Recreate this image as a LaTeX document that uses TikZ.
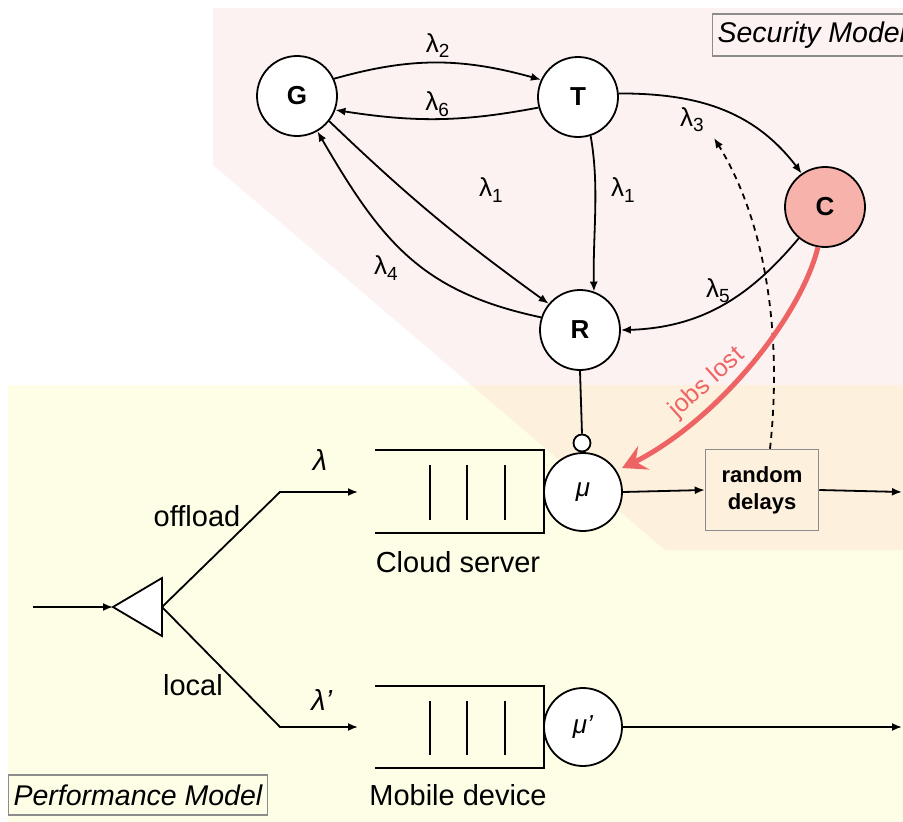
\documentclass[tikz,border=0pt]{standalone}
\usepackage{fontspec}
\setmainfont{Liberation Sans}
\usetikzlibrary{arrows.meta,bending,shapes.geometric}
\definecolor{secbg}{RGB}{253,242,242}
\definecolor{perfbg}{RGB}{254,253,230}
\definecolor{overbg}{RGB}{253,240,220}
\definecolor{cfill}{RGB}{247,178,172}
\definecolor{boxgray}{RGB}{140,140,140}
\definecolor{jobred}{RGB}{238,100,100}
\newcommand{\lam}[1]{λ\raisebox{-0.2em}{\fontsize{19}{19}\selectfont #1}}
\tikzset{
  statenode/.style={circle,draw,line width=1.8pt,fill=white,minimum size=80pt,inner sep=0pt,font=\fontsize{26}{28}\selectfont\bfseries},
  srvnode/.style={circle,draw,line width=1.8pt,fill=white,minimum size=78pt,inner sep=0pt,font=\fontsize{26}{28}\selectfont\itshape},
  arr/.style={line width=1.8pt,-{Latex[length=10pt,width=8pt]}},
  plain/.style={line width=1.8pt},
  lab/.style={font=\fontsize{26}{28}\selectfont,inner sep=1pt},
  txt/.style={font=\fontsize{29}{32}\selectfont,inner sep=1pt},
  tagbox/.style={draw=boxgray,line width=1.2pt,font=\fontsize{28.5}{32}\selectfont\itshape,inner sep=5pt,anchor=west},
}
\begin{document}
\begin{tikzpicture}[x=1pt,y=-1pt]
\useasboundingbox (0,0) rectangle (903,822);
% backgrounds
\fill[secbg] (213,8) -- (903,8) -- (903,550) -- (665,550) -- (213,165) -- cycle;
\fill[perfbg] (8,385) rectangle (903,822);
\begin{scope}
  \clip (213,8) -- (903,8) -- (903,550) -- (665,550) -- (213,165) -- cycle;
  \fill[overbg] (8,385) rectangle (903,822);
\end{scope}
% tags
\node[tagbox,fill=secbg,minimum height=42pt] (sec) at (712,35) {Security Model};
\node[tagbox,fill=perfbg,minimum height=40pt] (perf) at (8,795) {Performance Model};
% states
\node[statenode] (G) at (297,96) {G};
\node[statenode] (T) at (578,97) {T};
\node[statenode,fill=cfill] (C) at (825,207) {C};
\node[statenode] (R) at (580,330) {R};
% security edges
\draw[arr] (G.25) to[bend left=16] node[lab,above=3pt] {\lam{2}} (T.155);
\draw[arr] (T.195) to[bend left=10] node[lab,above=1pt] {\lam{6}} (G.-20);
\draw[arr] (T.5) to[out=0,in=125] (C.125);
\node[lab] (l3) at (692,120) {\lam{3}};
\draw[arr] (G.-38) to[bend right=4] (R.140);
\node[lab] (l1a) at (491,190) {\lam{1}};
\draw[arr] (R.162) to[out=168,in=-60,looseness=1.1] (G.-60);
\node[lab] (l4) at (386,268) {\lam{4}};
\draw[arr] (T.-72) to[out=-80,in=92,looseness=0.9] (R.70);
\node[lab] (l1b) at (623,190) {\lam{1}};
\draw[arr] (C.-130) to[out=-130,in=0] (R.0);
\node[lab] (l5) at (718,291) {\lam{5}};
% performance model
\node[srvnode] (mu) at (583,492) {μ};
\node[srvnode] (mup) at (583,727) {μ’};
\draw[plain] (375,450) -- (544,450) -- (544,533) -- (375,533);
\foreach \x in {430,467,505} \draw[plain] (\x,465) -- (\x,520);
\draw[plain] (375,686) -- (544,686) -- (544,768) -- (375,768);
\foreach \x in {430,467,505} \draw[plain] (\x,701) -- (\x,755);
\node[circle,draw,line width=1.8pt,fill=white,minimum size=17pt,inner sep=0pt] (knob) at (582,443) {};
\draw[plain] (R.south) -- (knob.north);
\node[draw=boxgray,line width=1.5pt,fill=overbg,minimum width=113pt,minimum height=81pt,align=center,font=\fontsize{22}{27}\selectfont\bfseries] (rd) at (762,490) {random\\delays};
\draw[arr] (mu.east) -- (rd.west);
\coordinate (out1) at (902,492);
\draw[arr] (rd.east) -- (out1);
\coordinate (out2) at (902,727);
\draw[arr] (mup.east) -- (out2);
% splitter
\coordinate (spapex) at (113,607);
\coordinate (spright) at (162,607);
\draw[line width=1.8pt,fill=white,line join=miter] (spapex) -- (162,578) -- (162,636) -- cycle;
\coordinate (in0) at (33,607);
\draw[arr] (in0) -- (spapex);
\coordinate (k1) at (280,492);
\coordinate (k2) at (280,727);
\coordinate (q1) at (358,492);
\coordinate (q2) at (358,727);
\draw[arr] (spright) -- (k1) -- (q1);
\draw[arr] (spright) -- (k2) -- (q2);
\node[txt] (off) at (197,516) {offload};
\node[txt] (loc) at (193,685) {local};
\node[txt] (lm) at (320,460) {\textit{λ}};
\node[txt] (lmp) at (322,700) {\textit{λ’}};
\node[txt] (cs) at (458,562) {Cloud server};
\node[txt] (md) at (458,795) {Mobile device};
% dashed feedback
\draw[line width=1.8pt,dash pattern=on 6pt off 5pt,-{Latex[length=10pt,width=8pt]}] (rd.north) ++(8,0) .. controls (782,340) and (768,220) .. (714,138);
% jobs lost
\draw[jobred,line width=5pt,-{Stealth[length=24pt,width=26pt,inset=9pt]}] (C.-100) .. controls (800,320) and (710,430) .. (622,468);
\node[jobred,font=\fontsize{25}{28}\selectfont,rotate=42] (jl) at (707,383) {jobs lost};
\end{tikzpicture}
\end{document}
